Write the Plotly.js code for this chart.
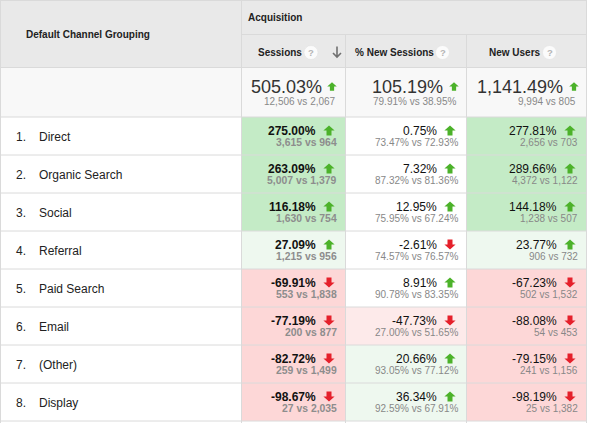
<!DOCTYPE html>
<html>
<head>
<meta charset="utf-8">
<script src="https://cdn.plot.ly/plotly-3.0.1.min.js"></script>
<style>html,body{margin:0;padding:0;background:#fff;}#chart{width:589px;height:423px;}</style>
</head>
<body>
<div id="chart"></div>
<script>
// ---------- data ----------
const channels = ['Direct', 'Organic Search', 'Social', 'Referral', 'Paid Search', 'Email', '(Other)', 'Display'];
const sessionsChange = [275.00, 263.09, 116.18, 27.09, -69.91, -77.19, -82.72, -98.67];
const sessionsCur = [3615, 5007, 1630, 1215, 553, 200, 259, 27];
const sessionsPrev = [964, 1379, 754, 956, 1838, 877, 1499, 2035];
const newSessChange = [0.75, 7.32, 12.95, -2.61, 8.91, -47.73, 20.66, 36.34];
const newSessCur = [73.47, 87.32, 75.95, 74.57, 90.78, 27.00, 93.05, 92.59];
const newSessPrev = [72.93, 81.36, 67.24, 76.57, 83.35, 51.65, 77.12, 67.91];
const newUsersChange = [277.81, 289.66, 144.18, 23.77, -67.23, -88.08, -79.15, -98.19];
const newUsersCur = [2656, 4372, 1238, 906, 502, 54, 241, 25];
const newUsersPrev = [703, 1122, 507, 732, 1532, 453, 1156, 1382];
const totalChange = [505.03, 105.19, 1141.49];
const totalCur = [12506, 79.91, 9994];
const totalPrev = [2067, 38.95, 805];
const columnTitles = ['Sessions', '% New Sessions', 'New Users'];
const groupTitle = 'Acquisition';
const dimTitle = 'Default Channel Grouping';

// ---------- helpers ----------
const FONT = '"Liberation Sans", Arial, sans-serif';
const fmtPct = v => v.toLocaleString('en-US', {minimumFractionDigits: 2, maximumFractionDigits: 2}) + '%';
const fmtInt = v => v.toLocaleString('en-US');
const GREEN = '#4cb22a', RED = '#e5202b';
const BORDER = '#dadada';

const shapes = [], annotations = [];
function rect(x0, y0, x1, y1, fill) {
  shapes.push({type: 'rect', xref: 'x', yref: 'y', x0, y0, x1, y1, fillcolor: fill, line: {width: 0}, layer: 'below'});
}
function line(x0, y0, x1, y1, color) {
  shapes.push({type: 'line', xref: 'x', yref: 'y', x0, y0, x1, y1, line: {color: color || BORDER, width: 1}});
}
function text(x, y, t, size, color, anchor, bold) {
  annotations.push({xref: 'x', yref: 'y', x, y, text: bold ? '<b>' + t + '</b>' : t, showarrow: false,
    xanchor: anchor || 'left', yanchor: 'middle', borderpad: 0,
    font: {family: FONT, size, color}});
}
function arrow(cx, cy, up, s) {
  s = s || 1;
  const hw = 5.6 * s, sw = 2.5 * s, hh = 5 * s, sh = 5 * s;
  const d = up ? -1 : 1;
  const p = `M${cx - hw},${cy} L${cx},${cy + d * hh} L${cx + hw},${cy} L${cx + sw},${cy} L${cx + sw},${cy - d * sh} L${cx - sw},${cy - d * sh} L${cx - sw},${cy} Z`;
  shapes.push({type: 'path', xref: 'x', yref: 'y', path: p, fillcolor: up ? GREEN : RED, line: {width: 0}});
}
function shade(v) {
  const a = Math.abs(v);
  if (a >= 50) return v > 0 ? '#c4ebc6' : '#fdd7d7';
  if (a >= 15) return v > 0 ? '#eef8ef' : '#fdeaea';
  return '#ffffff';
}
function help(cx, cy) {
  shapes.push({type: 'circle', xref: 'x', yref: 'y', x0: cx - 7, x1: cx + 7, y0: cy - 7, y1: cy + 7,
    fillcolor: '#fbfbfb', line: {color: '#e2e2e2', width: 0.6}});
  text(cx, cy, '?', 9.5, '#b5b5b5', 'center', true);
}

// ---------- geometry ----------
const W = 587;
const colX = [0.5, 241.5, 345.5, 466.5, 586.5];
const hdrMid = 34.5, hdrBot = 67.5, totBot = 117;
const rowH = 38;
const rowTop = i => totBot + i * rowH;

// header and totals backgrounds
rect(0, 0, W, hdrBot, '#e9e9e9');
rect(0, hdrBot, W, totBot, '#f8f8f8');

// body cells
const cols = [
  {chg: sessionsChange, cur: sessionsCur, prev: sessionsPrev, fmt: fmtInt, bold: true, mainR: 317, arr: 329, subR: 338},
  {chg: newSessChange, cur: newSessCur, prev: newSessPrev, fmt: fmtPct, bold: false, mainR: 437.5, arr: 450, subR: 458.5},
  {chg: newUsersChange, cur: newUsersCur, prev: newUsersPrev, fmt: fmtInt, bold: false, mainR: 557.5, arr: 570, subR: 578.5}
];
channels.forEach((ch, i) => {
  const y0 = rowTop(i);
  rect(0, y0, colX[1], y0 + rowH, '#ffffff');
  text(15, y0 + 19.5, (i + 1) + '.', 12, '#222', 'left');
  text(38, y0 + 19.5, ch, 12, '#222', 'left');
  cols.forEach((c, k) => {
    const v = c.chg[i];
    rect(colX[k + 1], y0, colX[k + 2], y0 + rowH, shade(v));
    text(c.mainR, y0 + 14, fmtPct(v), 12, '#111', 'right', c.bold);
    arrow(c.arr, y0 + 13.5, v >= 0);
    text(c.subR, y0 + 25.5, c.fmt(c.cur[i]) + ' vs ' + c.fmt(c.prev[i]), c.bold ? 10.4 : 10, c.bold ? '#8d8d8d' : '#888', 'right', c.bold);
  });
});

// totals
const totPos = [{mainR: 322.5, arr: 332, subR: 336.5, fmt: fmtInt}, {mainR: 444, arr: 454, subR: 457, fmt: fmtPct}, {mainR: 564, arr: 574, subR: 577, fmt: fmtInt}];
totPos.forEach((p, k) => {
  text(p.mainR, 86.5, fmtPct(totalChange[k]), 18, '#333', 'right');
  arrow(p.arr, 86.5, totalChange[k] >= 0, 0.85);
  text(p.subR, 101.5, p.fmt(totalCur[k]) + ' vs ' + p.fmt(totalPrev[k]), 10, '#888', 'right');
});

// header texts
text(24.5, 34, dimTitle, 10, '#222', 'left', true);
text(247, 17.5, groupTitle, 10, '#222', 'left', true);
text(256.5, 52, columnTitles[0], 10, '#222', 'left', true);
help(311, 52.5);
text(354, 52, columnTitles[1], 10, '#222', 'left', true);
help(442.5, 52.5);
text(487.5, 52, columnTitles[2], 10, '#222', 'left', true);
help(549.5, 52.5);
// sort indicator (down arrow)
shapes.push({type: 'path', xref: 'x', yref: 'y', path: 'M337,46.5 L337,57 M333,53 L337,57 L341,53', line: {color: '#707070', width: 1.6}});

// grid lines
line(0, 0.5, W, 0.5);
line(colX[1], hdrMid, W, hdrMid);
line(0, hdrBot, W, hdrBot);
line(0, totBot, W, totBot);
for (let i = 1; i <= channels.length; i++) line(0, rowTop(i), W, rowTop(i));
line(colX[0], 0, colX[0], 423);
line(colX[1], 0, colX[1], 423);
line(colX[2], hdrMid, colX[2], 423);
line(colX[3], hdrMid, colX[3], 423);
line(colX[4], 0, colX[4], 423);

const layout = {
  width: 589, height: 423,
  margin: {l: 0, r: 0, t: 0, b: 0, pad: 0},
  paper_bgcolor: '#ffffff', plot_bgcolor: '#ffffff',
  showlegend: false,
  xaxis: {range: [0, 589], visible: false, fixedrange: true},
  yaxis: {range: [423, 0], visible: false, fixedrange: true},
  shapes, annotations
};
Plotly.newPlot('chart', [{type: 'scatter', x: [], y: [], hoverinfo: 'skip'}], layout, {staticPlot: true, displayModeBar: false});
</script>
</body>
</html>
